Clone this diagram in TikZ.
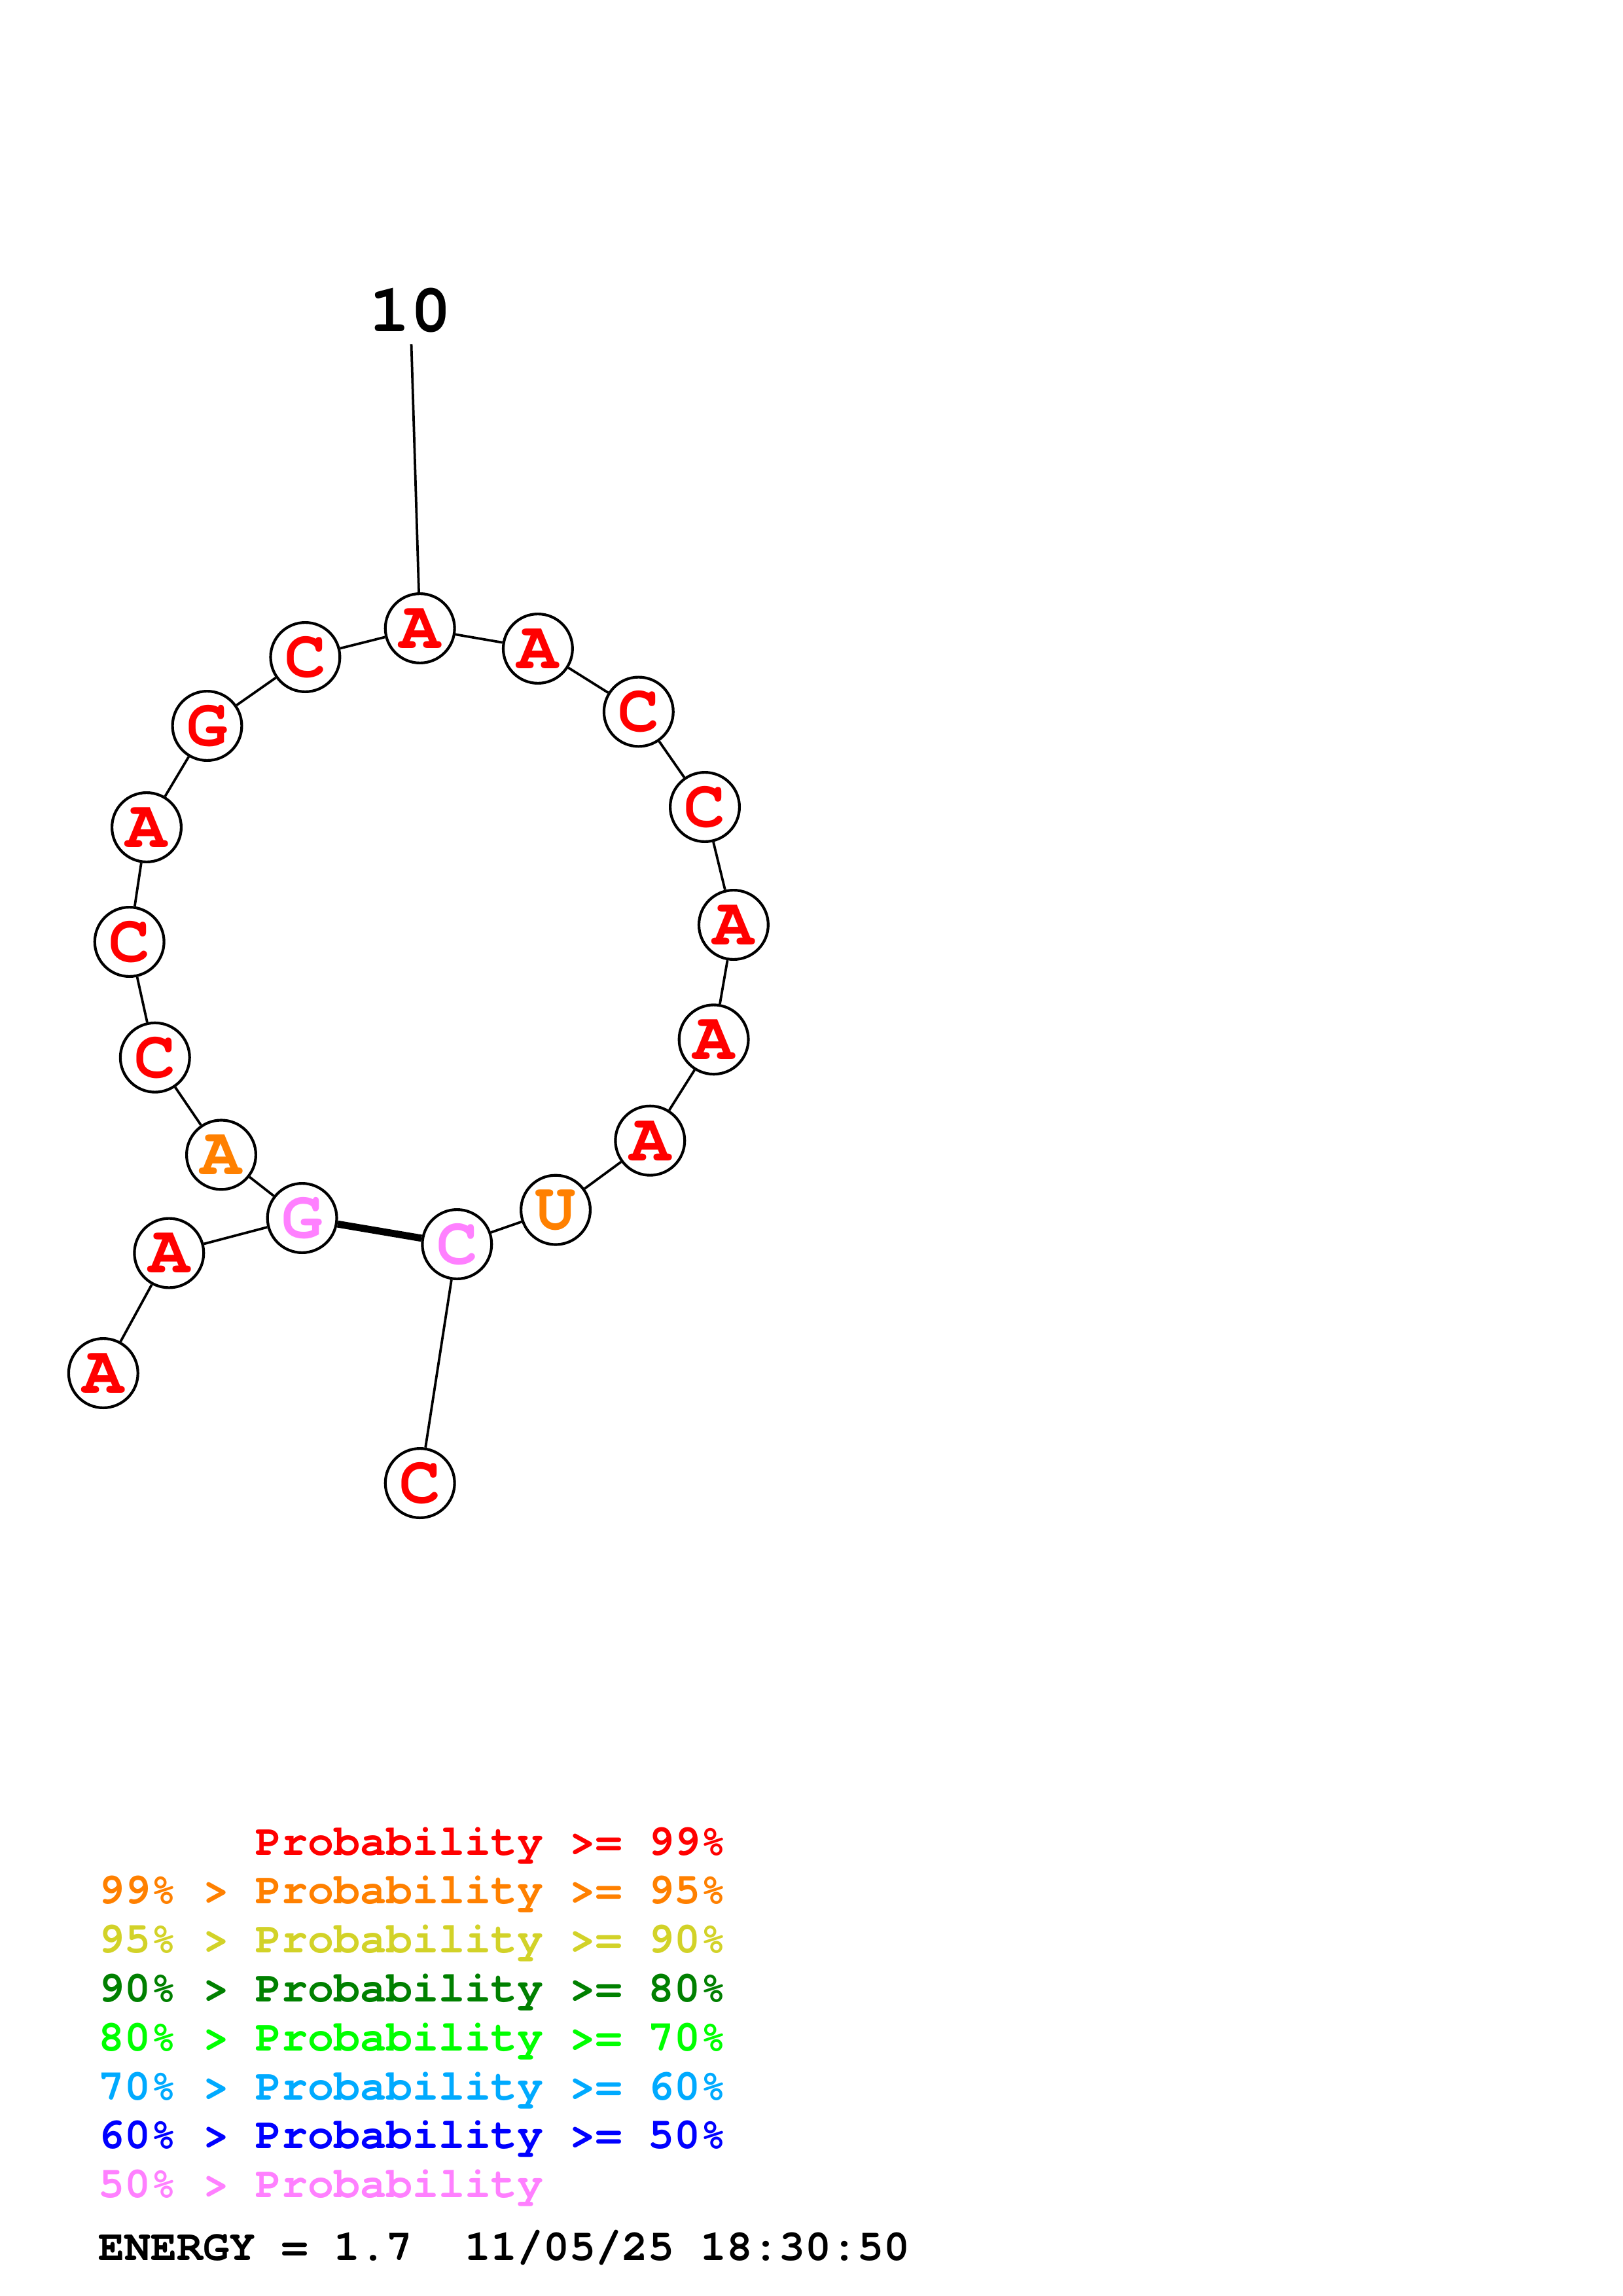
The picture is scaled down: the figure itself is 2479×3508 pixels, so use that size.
\documentclass[tikz,border=0pt]{standalone}
\usepackage{fontspec}
\setmonofont{TeX Gyre Cursor}
\definecolor{pr99}{RGB}{255,0,0}
\definecolor{pr95}{RGB}{255,128,0}
\definecolor{pr90}{RGB}{210,210,40}
\definecolor{pr80}{RGB}{0,128,0}
\definecolor{pr70}{RGB}{0,255,0}
\definecolor{pr60}{RGB}{0,170,255}
\definecolor{pr50}{RGB}{0,0,255}
\definecolor{prlow}{RGB}{255,128,255}
\begin{document}
\begin{tikzpicture}[x=0.24pt,y=-0.24pt,
  nt/.style={circle,draw,line width=1pt,fill=white,minimum size=25.4pt,inner sep=0pt,font=\ttfamily\bfseries\fontsize{25}{25}\selectfont},
  bb/.style={line width=0.9pt},
  key/.style={anchor=base west,inner sep=0pt,font=\ttfamily\bfseries\fontsize{16}{16}\selectfont}]
\useasboundingbox (0,0) rectangle (2479,3508);
%bases
\node[nt,text=pr99] (n1) at (157.8,2098) {A}; %1
\node[nt,text=pr99] (n2) at (258.3,1914.5) {A}; %2
\node[nt,text=prlow] (n3) at (461.6,1861) {G}; %3
\node[nt,text=pr95] (n4) at (338,1764.4) {A}; %4
\node[nt,text=pr99] (n5) at (236.8,1615.7) {C}; %5
\node[nt,text=pr99] (n6) at (197.7,1439) {C}; %6
\node[nt,text=pr99] (n7) at (224,1264) {A}; %7
\node[nt,text=pr99] (n8) at (316.5,1109) {G}; %8
\node[nt,text=pr99] (n9) at (466.4,1004) {C}; %9
\node[nt,text=pr99] (n10) at (641.7,960) {A}; %10
\node[nt,text=pr99] (n11) at (821.9,991) {A}; %11
\node[nt,text=pr99] (n12) at (975.8,1087.5) {C}; %12
\node[nt,text=pr99] (n13) at (1077,1233) {C}; %13
\node[nt,text=pr99] (n14) at (1120.9,1413) {A}; %14
\node[nt,text=pr99] (n15) at (1090.6,1588.3) {A}; %15
\node[nt,text=pr99] (n16) at (993.3,1742.7) {A}; %16
\node[nt,text=pr95] (n17) at (849,1848.6) {U}; %17
\node[nt,text=prlow] (n18) at (698.3,1901) {C}; %18
\node[nt,text=pr99] (n19) at (641.7,2266) {C}; %19
%numbering
\node[anchor=base,inner sep=4pt,font=\ttfamily\bfseries\fontsize{25}{25}\selectfont] (lbl10) at (627,507) {10};
\draw[bb] (lbl10) -- (n10);
%backbone
\draw[bb] (n1) -- (n2);
\draw[bb] (n2) -- (n3);
\draw[bb] (n3) -- (n4);
\draw[bb] (n4) -- (n5);
\draw[bb] (n5) -- (n6);
\draw[bb] (n6) -- (n7);
\draw[bb] (n7) -- (n8);
\draw[bb] (n8) -- (n9);
\draw[bb] (n9) -- (n10);
\draw[bb] (n10) -- (n11);
\draw[bb] (n11) -- (n12);
\draw[bb] (n12) -- (n13);
\draw[bb] (n13) -- (n14);
\draw[bb] (n14) -- (n15);
\draw[bb] (n15) -- (n16);
\draw[bb] (n16) -- (n17);
\draw[bb] (n17) -- (n18);
\draw[bb] (n18) -- (n19);
%pair
\draw[line width=2.6pt] (n3) -- (n18);
%legend
\node[key,text=pr99] (key1) at (390,2834) {Probability >= 99\%};
\node[key,text=pr95] (key2) at (150,2908.8) {99\% > Probability >= 95\%};
\node[key,text=pr90] (key3) at (150,2983.6) {95\% > Probability >= 90\%};
\node[key,text=pr80] (key4) at (150,3058.4) {90\% > Probability >= 80\%};
\node[key,text=pr70] (key5) at (150,3133.2) {80\% > Probability >= 70\%};
\node[key,text=pr60] (key6) at (150,3208) {70\% > Probability >= 60\%};
\node[key,text=pr50] (key7) at (150,3282.8) {60\% > Probability >= 50\%};
\node[key,text=prlow] (key8) at (150,3357.6) {50\% > Probability};
\node[key] (energy) at (150,3453) {ENERGY = 1.7\ \ 11/05/25 18:30:50};
\end{tikzpicture}
\end{document}
